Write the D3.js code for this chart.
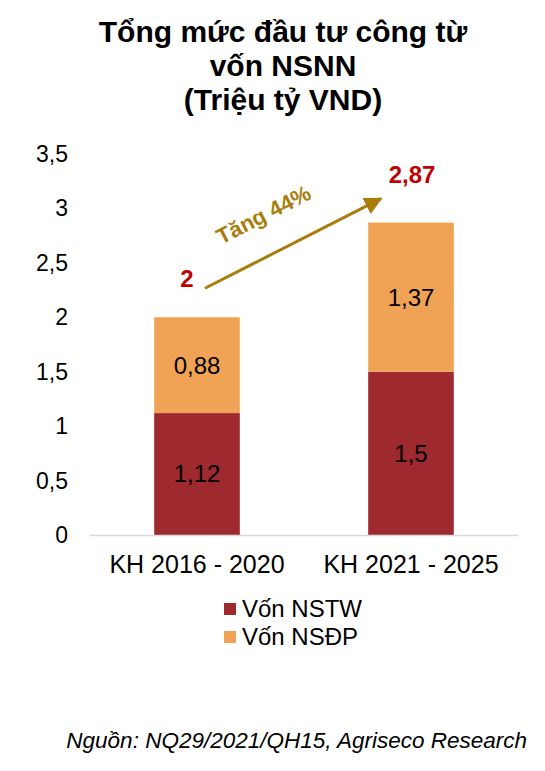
<!DOCTYPE html>
<html>
<head>
<meta charset="utf-8">
<script src="https://cdn.jsdelivr.net/npm/d3@7"></script>
<style>
  body { margin: 0; background: #fff; }
  svg { display: block; font-family: 'Liberation Sans', Arial, sans-serif; }
</style>
</head>
<body>
<svg id="chart"></svg>
<script>
// chart data
const categories = ['KH 2016 - 2020', 'KH 2021 - 2025']
const nstw = [1.12, 1.5]
const nsdp = [0.88, 1.37]
const totals = [2, 2.87]
const seriesNames = ['Vốn NSTW', 'Vốn NSĐP']
const yTicks = [0, 0.5, 1, 1.5, 2, 2.5, 3, 3.5]
const titleLines = ['Tổng mức đầu tư công từ', 'vốn NSNN', '(Triệu tỷ VND)']
const growthLabel = 'Tăng 44%'
const sourceText = 'Nguồn: NQ29/2021/QH15, Agriseco Research'

const width = 545
const height = 771
const colors = ['#9E292F', '#F0A354']
const red = '#C00000'
const gold = '#A97D0B'

const svg = d3.select('#chart')
  .attr('width', width)
  .attr('height', height)

// title
svg.append('g')
  .selectAll('text')
  .data(titleLines)
  .enter().append('text')
  .attr('x', 283)
  .attr('y', (d, i) => 42 + i * 34)
  .attr('text-anchor', 'middle')
  .style('font-weight', 'bold')
  .style('font-size', '30px')
  .text(d => d)

const x = d3.scaleBand()
  .domain(categories)
  .range([90, 518])
  .paddingInner(0.6)
  .paddingOuter(0.3)

const y = d3.scaleLinear()
  .domain([0, 3.5])
  .range([535, 154])

const fmt = d => String(d).replace('.', ',')

// y tick labels (no axis line, no grid)
svg.append('g')
  .selectAll('text')
  .data(yTicks)
  .enter().append('text')
  .attr('x', 68)
  .attr('y', d => y(d))
  .attr('dy', '0.35em')
  .attr('text-anchor', 'end')
  .style('font-size', '23px')
  .text(fmt)

// stacked bars
const rows = categories.map((c, i) => ({ cat: c, nstw: nstw[i], nsdp: nsdp[i] }))
const stack = d3.stack().keys(['nstw', 'nsdp'])(rows)

const layer = svg.append('g')
  .selectAll('g')
  .data(stack)
  .enter().append('g')
  .attr('fill', (d, i) => colors[i])

layer.selectAll('rect')
  .data(d => d)
  .enter().append('rect')
  .attr('x', d => x(d.data.cat))
  .attr('width', x.bandwidth())
  .attr('y', d => y(d[1]))
  .attr('height', d => y(d[0]) - y(d[1]))

layer.selectAll('text')
  .data(d => d.map(s => ({ s, key: d.key })))
  .enter().append('text')
  .attr('x', d => x(d.s.data.cat) + x.bandwidth() / 2)
  .attr('y', d => (y(d.s[0]) + y(d.s[1])) / 2)
  .attr('dy', '0.35em')
  .attr('text-anchor', 'middle')
  .attr('fill', '#000')
  .style('font-size', '24px')
  .text(d => fmt(d.s.data[d.key]))

// baseline
svg.append('line')
  .attr('x1', 90)
  .attr('x2', 518)
  .attr('y1', y(0) + 0.5)
  .attr('y2', y(0) + 0.5)
  .attr('stroke', '#d9d9d9')
  .attr('stroke-width', 1.5)

// category labels
svg.append('g')
  .selectAll('text')
  .data(categories)
  .enter().append('text')
  .attr('x', d => x(d) + x.bandwidth() / 2)
  .attr('y', 573)
  .attr('text-anchor', 'middle')
  .style('font-size', '25px')
  .text(d => d)

// total labels, placed by hand like the original
const totalPos = totals.map((t, i) => ({
  t,
  x: x(categories[i]) + x.bandwidth() / 2 + (i === 0 ? -10 : 1),
  y: y(t) - (i === 0 ? 30 : 40)
}))

svg.append('g')
  .selectAll('text')
  .data(totalPos)
  .enter().append('text')
  .attr('x', d => d.x)
  .attr('y', d => d.y)
  .attr('text-anchor', 'middle')
  .attr('fill', red)
  .style('font-weight', 'bold')
  .style('font-size', '24px')
  .text(d => fmt(d.t))

// growth arrow
const defs = svg.append('defs')
defs.append('marker')
  .attr('id', 'head')
  .attr('viewBox', '0 0 10 10')
  .attr('refX', 9)
  .attr('refY', 5)
  .attr('markerWidth', 6)
  .attr('markerHeight', 6)
  .attr('orient', 'auto')
  .append('path')
  .attr('d', 'M0,0 L10,5 L0,10 z')
  .attr('fill', gold)

const a0 = [totalPos[0].x + 18, totalPos[0].y + 1]
const a1 = [totalPos[1].x - 31, totalPos[1].y + 16]

svg.append('line')
  .attr('x1', a0[0])
  .attr('y1', a0[1])
  .attr('x2', a1[0])
  .attr('y2', a1[1])
  .attr('stroke', gold)
  .attr('stroke-width', 3)
  .attr('marker-end', 'url(#head)')

const ang = Math.atan2(a1[1] - a0[1], a1[0] - a0[0]) * 180 / Math.PI
svg.append('text')
  .attr('transform', `translate(${(a0[0] + a1[0]) / 2 - 26},${(a0[1] + a1[1]) / 2 - 22}) rotate(${ang})`)
  .attr('text-anchor', 'middle')
  .attr('fill', gold)
  .style('font-weight', 'bold')
  .style('font-size', '22px')
  .text(growthLabel)

// legend
const legend = svg.append('g')
  .selectAll('g')
  .data(seriesNames)
  .enter().append('g')
  .attr('transform', (d, i) => `translate(224,${603 + i * 28})`)

legend.append('rect')
  .attr('width', 12)
  .attr('height', 12)
  .attr('fill', (d, i) => colors[i])

legend.append('text')
  .attr('x', 18)
  .attr('y', 6)
  .attr('dy', '0.35em')
  .style('font-size', '24px')
  .text(d => d)

// source
svg.append('text')
  .attr('x', 527)
  .attr('y', 748)
  .attr('text-anchor', 'end')
  .style('font-style', 'italic')
  .style('font-size', '22.5px')
  .text(sourceText)
</script>
</body>
</html>
